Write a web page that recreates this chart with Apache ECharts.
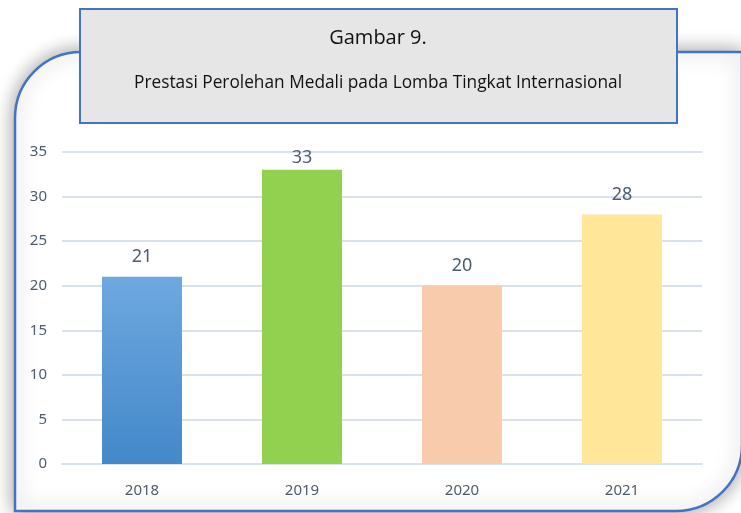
<!DOCTYPE html>
<html><head><meta charset="utf-8">
<script src="https://cdn.jsdelivr.net/npm/echarts@6/dist/echarts.min.js"></script>
<style>html,body{margin:0;padding:0;background:#fff}#c{width:741px;height:513px}</style>
</head><body><div id="c"></div>
<script>
const categories = ['2018', '2019', '2020', '2021'];
const values = [21, 33, 20, 28];
const yTicks = [0, 5, 10, 15, 20, 25, 30, 35];
const titleText = 'Gambar 9.';
const subtitleText = 'Prestasi Perolehan Medali pada Lomba Tingkat Internasional';

const barColors = [
  new echarts.graphic.LinearGradient(0, 0, 0, 1, [{offset: 0, color: '#6EA8DF'}, {offset: 1, color: '#4388CA'}]),
  '#92D050', '#F8CBAD', '#FFE699'
];
const maxVal = Math.max(...values);

const chart = echarts.init(document.getElementById('c'));
chart.setOption({
  animation: false,
  graphic: [
    {type: 'rect', z: -10, shape: {x: 15, y: 52, width: 727, height: 459, r: [66, 0, 66, 0]},
     style: {fill: '#fff', stroke: '#4472C4', lineWidth: 2.5, shadowBlur: 20, shadowColor: 'rgba(0,0,0,0.4)'}},
    {type: 'rect', z: 100, shape: {x: 80, y: 9, width: 597, height: 114},
     style: {fill: '#E6E6E6', stroke: '#4472C4', lineWidth: 2}},
    {type: 'text', z: 101, x: 378, y: 38,
     style: {text: titleText, font: '20px "Open Sans"', fill: '#111', align: 'center', verticalAlign: 'middle'}},
    {type: 'text', z: 101, x: 378, y: 83,
     style: {text: subtitleText, font: '17.3px "Open Sans"', fill: '#111', align: 'center', verticalAlign: 'middle'}}
  ],
  grid: {left: 62, right: 39, top: 152, bottom: 49, containLabel: false},
  xAxis: {
    type: 'category', data: categories,
    axisLine: {lineStyle: {color: '#D9E1EA', width: 2}},
    axisTick: {show: false},
    axisLabel: {color: '#4d5b6e', fontSize: 15, fontFamily: 'Noto Sans', margin: 19}
  },
  yAxis: {
    type: 'value', min: yTicks[0], max: yTicks[yTicks.length - 1], interval: 5,
    axisLine: {show: false}, axisTick: {show: false},
    splitLine: {lineStyle: {color: '#D9E1EA', width: 2}},
    axisLabel: {color: '#4d5b6e', fontSize: 15, fontFamily: 'Noto Sans', margin: 15}
  },
  series: [{
    type: 'bar', barWidth: '50%',
    data: values.map((v, i) => ({
      value: v, itemStyle: {color: barColors[i]},
      label: v === maxVal ? {distance: 3} : undefined
    })),
    label: {show: true, position: 'top', distance: 11, color: '#4d5b6e', fontSize: 18, fontFamily: 'Noto Sans'}
  }]
});
</script></body></html>
